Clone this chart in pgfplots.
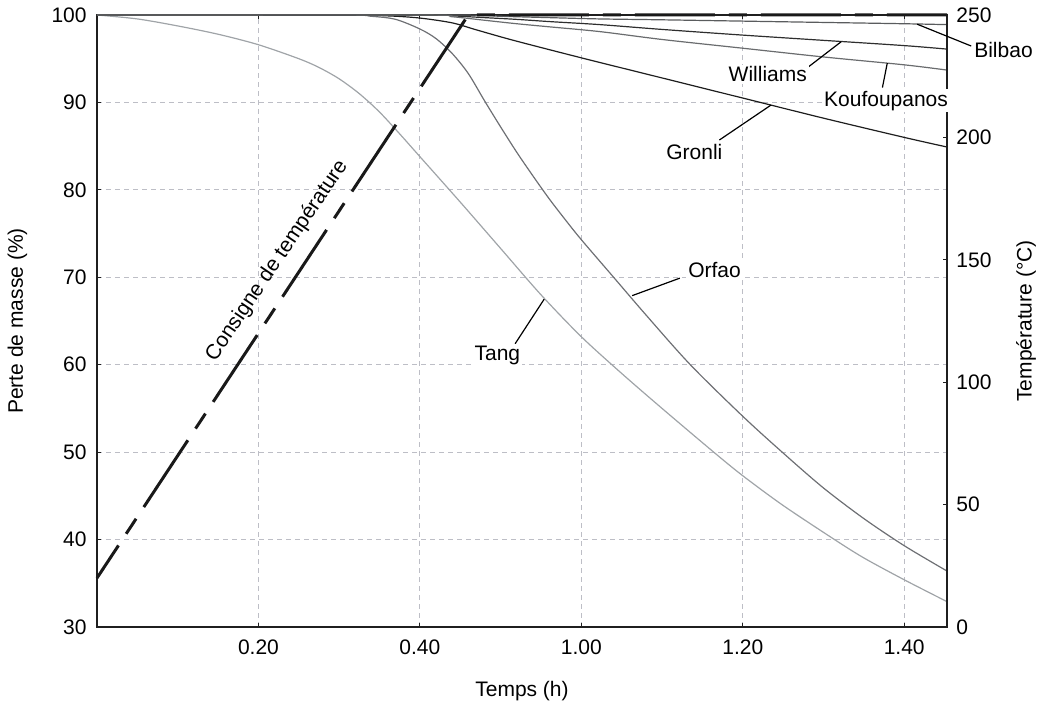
\documentclass[border=0pt]{standalone}
\usepackage{fontspec}
\setmainfont{Liberation Sans}
\usepackage{pgfplots}
\pgfplotsset{compat=1.18}

\definecolor{tang}{HTML}{A0A4A8}
\definecolor{orfao}{HTML}{6E7074}
\definecolor{gronli}{HTML}{1E1E1E}
\definecolor{williams}{HTML}{2E2E2E}
\definecolor{kouf}{HTML}{6A6C6E}
\definecolor{bilbao}{HTML}{5A5C5E}
\definecolor{gridc}{HTML}{BDBEC6}

\begin{document}
\begin{tikzpicture}[font=\fontsize{10.5}{12.6}\selectfont]
\pgfplotsset{
  every axis/.append style={
    scale only axis, width=425pt, height=306pt,
    xmin=0, xmax=105.3,
    at={(0,0)}, anchor=south west,
    axis line style={line width=1pt, black!88},
    major tick length=2pt,
    tick style={line width=0.6pt, black!88},
    /pgf/number format/assume math mode=true,
    tick label style={font=\fontsize{10.5}{12.6}\selectfont},
    label style={font=\fontsize{10.5}{12.6}\selectfont},
  }
}
\begin{axis}[
  ymin=30, ymax=100,
  ytick={30,40,...,100},
  xtick={20,40,60,80,100},
  xticklabels={0.20,0.40,1.00,1.20,1.40},
  xtick pos=both, ytick pos=left,
  grid=major,
  grid style={gridc, line width=0.5pt, dash pattern=on 2.5pt off 2pt},
  yticklabel style={anchor=east, inner sep=0pt, xshift=-5pt},
  xticklabel style={anchor=north, inner sep=0pt, yshift=-6pt},
  xlabel={Temps (h)},
  xlabel style={at={(rel axis cs:0.5,-0.1046)}, anchor=center},
  ylabel={Perte de masse (\%)},
  ylabel style={at={(rel axis cs:-0.0935,0.5)}, anchor=center},
  clip=false,
]
% Tang
\addplot[tang, line width=0.6pt, smooth, tension=0.5] coordinates {
(0,100)(5,99.55)(10,98.75)(15,97.8)(20,96.6)(25,95.0)(27.5,94.0)(30,92.7)(32.5,91.0)
(35,88.9)(37.5,86.4)(40,83.8)(45,78.6)(50,73.3)(55,68.0)(60,63.2)(65,59.0)(70,55.0)
(76.4,50.0)(80,47.3)(85,43.9)(91.2,40.1)(95,37.9)(100,35.4)(105.3,32.9)};
% Orfao
\addplot[orfao, line width=0.6pt, smooth, tension=0.5] coordinates {
(0,100)(30,100)(34,99.85)(37,99.5)(40,98.4)(42,97.3)(44,95.6)(46,93.3)(48,90.2)
(50,87.2)(52,84.3)(54,81.6)(56,79.0)(58,76.6)(60,74.3)(64,70.0)(68,65.7)(73.5,60)
(80,54.1)(85,49.9)(90,45.9)(95,42.4)(100,39.3)(105.3,36.4)};
% Gronli
\addplot[gronli, line width=0.6pt, smooth, tension=0.5] coordinates {
(0,100)(30,100)(36,99.9)(40,99.65)(44,99.1)(47,98.3)(51.6,97.1)(60,95.1)(70,92.8)
(80,90.5)(90,88.2)(100,86.0)(105.3,84.9)};
% Williams
\addplot[williams, line width=0.6pt, smooth, tension=0.5] coordinates {
(0,100)(40,100)(44,99.9)(48,99.7)(52,99.5)(56,99.25)(62.3,98.9)(70,98.35)(80,97.7)
(90,97.1)(100,96.5)(105.3,96.1)};
% Koufoupanos
\addplot[kouf, line width=0.6pt, smooth, tension=0.5] coordinates {
(0,100)(40,100)(44,99.8)(48,99.4)(52,99.0)(56,98.65)(62.3,98.1)(70,97.2)(80,96.2)
(90,95.2)(100,94.3)(105.3,93.7)};
% Bilbao
\addplot[bilbao, line width=0.6pt, smooth, tension=0.5] coordinates {
(0,100)(44,100)(50,99.85)(56,99.7)(62.3,99.55)(70,99.45)(80,99.3)(90,99.15)
(100,99.0)(105.3,98.9)};

\coordinate (wP) at (axis cs:92.2,96.95);
\coordinate (wQ) at (axis cs:87.9,93.9);
\coordinate (wL) at (axis cs:83.1,93.2);
\coordinate (kP) at (axis cs:97.9,94.5);
\coordinate (kQ) at (axis cs:97.3,91.7);
\coordinate (kL) at (axis cs:97.75,90.2);
\coordinate (gP) at (axis cs:83.5,89.7);
\coordinate (gQ) at (axis cs:77.1,85.7);
\coordinate (gL) at (axis cs:74.0,84.35);
\coordinate (bP) at (axis cs:101.6,98.95);
\coordinate (bQ) at (axis cs:108.3,96.45);
\coordinate (bL) at (axis cs:112.3,96.0);
\coordinate (oP) at (axis cs:66.3,67.9);
\coordinate (oQ) at (axis cs:72.2,69.9);
\coordinate (oL) at (axis cs:76.5,70.85);
\coordinate (tP) at (axis cs:55.4,67.5);
\coordinate (tQ) at (axis cs:51.8,62.4);
\coordinate (tL) at (axis cs:49.6,61.1);
\coordinate (cL) at (axis cs:22.3,71.9);
\end{axis}

\begin{axis}[
  ymin=0, ymax=250, ytick={0,50,...,250},
  axis x line=none, axis y line*=right,
  ytick pos=right,
  yticklabel style={anchor=west, inner sep=0pt, xshift=4.5pt},
  ylabel={Température (°C)},
  ylabel style={at={(rel axis cs:1.0929,0.5)}, anchor=center},
  clip=false,
]
\addplot[black!90, line width=1.5pt, line cap=butt, dash pattern=on 40pt off 7pt on 9pt off 7pt, dash phase=20.5pt]
  coordinates {(0,20)(46,250)(105.3,250)};
\end{axis}

\begin{scope}[line width=0.6pt, black]
\draw (wP) -- (wQ);
\draw (kP) -- (kQ);
\draw (gP) -- (gQ);
\draw (bP) -- (bQ);
\draw (oP) -- (oQ);
\draw (tP) -- (tQ);
\end{scope}
\begin{scope}[every node/.style={fill=white, inner sep=1pt, font=\fontsize{10.5}{12.6}\selectfont}]
\node at (wL) {Williams};
\node at (kL) {Koufoupanos};
\node at (gL) {Gronli};
\node at (bL) {Bilbao};
\node at (oL) {Orfao};
\node at (tL) {Tang};
\node[rotate=56, fill=none] at (cL) {Consigne de température};
\end{scope}

\pgfresetboundingbox
\path (-48.5pt,-39pt) rectangle (471.5pt,313.5pt);
\end{tikzpicture}
\end{document}
